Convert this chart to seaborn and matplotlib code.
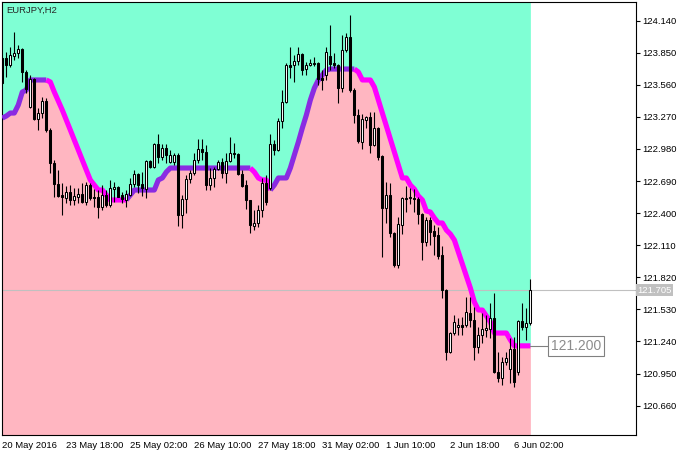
"""EURJPY H2 candles with a stepped trend line and two-colour fill, MetaTrader style."""

import numpy as np
import pandas as pd
import matplotlib
matplotlib.use("Agg")
import matplotlib.pyplot as plt
import seaborn as sns

symbol = "EURJPY,H2"

opens = [
    123.803, 123.803, 123.739, 123.821, 123.848, 123.884, 123.676, 123.360, 123.613, 123.251,
    123.305, 123.414, 123.152, 122.853, 122.663, 122.564, 122.537, 122.591, 122.519, 122.546,
    122.573, 122.501, 122.654, 122.546, 122.546, 122.455, 122.564, 122.473, 122.618, 122.636,
    122.564, 122.519, 122.564, 122.663, 122.754, 122.663, 122.618, 122.871, 122.817, 123.025,
    122.907, 122.989, 122.862, 122.862, 122.926, 122.383, 122.528, 122.709, 122.763, 122.880,
    122.980, 122.953, 122.654, 122.718, 122.799, 122.862, 122.763, 122.871, 122.944, 122.935,
    122.754, 122.654, 122.519, 122.284, 122.311, 122.428, 122.672, 122.627, 123.025, 122.971,
    123.233, 123.405, 123.739, 123.739, 123.775, 123.839, 123.703, 123.739, 123.757, 123.757,
    123.622, 123.649, 123.821, 123.757, 123.739, 123.531, 123.875, 123.992, 123.513, 123.287,
    123.043, 123.242, 123.269, 123.016, 123.170, 122.916, 122.446, 122.564, 122.220, 121.931,
    122.293, 122.537, 122.537, 122.537, 122.528, 122.392, 122.139, 122.338, 122.238, 122.202,
    122.021, 121.705, 121.144, 121.316, 121.370, 121.388, 121.388, 121.497, 121.434, 121.190,
    121.298, 121.343, 121.352, 121.452, 120.963, 120.909, 121.054, 120.991, 121.171, 120.963,
    121.425, 121.370, 121.406,
]
highs = [
    123.812, 123.857, 123.902, 124.038, 123.920, 123.893, 123.694, 123.649, 123.622, 123.350,
    123.450, 123.441, 123.170, 122.880, 122.790, 122.672, 122.645, 122.654, 122.627, 122.627,
    122.672, 122.681, 122.672, 122.618, 122.609, 122.654, 122.609, 122.700, 122.681, 122.645,
    122.591, 122.609, 122.718, 122.790, 122.763, 122.772, 122.880, 122.880, 123.034, 123.115,
    123.025, 123.025, 122.971, 122.944, 122.944, 122.564, 122.745, 122.790, 122.944, 123.070,
    123.070, 123.016, 122.808, 122.817, 122.880, 122.898, 122.944, 123.088, 123.034, 122.944,
    122.790, 122.700, 122.519, 122.428, 122.473, 122.718, 122.745, 123.115, 123.061, 123.260,
    123.513, 123.757, 123.902, 123.830, 123.902, 123.848, 123.766, 123.794, 123.812, 123.766,
    123.694, 123.902, 124.101, 123.848, 123.748, 124.011, 124.029, 124.191, 123.531, 123.341,
    123.296, 123.278, 123.314, 123.314, 123.179, 122.926, 122.681, 122.672, 122.229, 122.365,
    122.546, 122.645, 122.627, 122.618, 122.546, 122.401, 122.365, 122.365, 122.293, 122.275,
    122.103, 121.714, 121.325, 121.479, 121.452, 121.461, 121.642, 121.642, 121.551, 121.370,
    121.497, 121.479, 121.587, 121.678, 121.144, 121.099, 121.144, 121.271, 121.280, 121.434,
    121.587, 121.542, 121.804,
]
lows = [
    123.568, 123.631, 123.721, 123.784, 123.803, 123.586, 123.486, 123.350, 123.242, 123.152,
    123.260, 123.133, 122.763, 122.546, 122.546, 122.383, 122.492, 122.473, 122.473, 122.492,
    122.492, 122.473, 122.519, 122.455, 122.356, 122.428, 122.455, 122.455, 122.501, 122.546,
    122.492, 122.455, 122.555, 122.636, 122.582, 122.555, 122.537, 122.808, 122.808, 122.853,
    122.880, 122.853, 122.853, 122.835, 122.284, 122.265, 122.401, 122.672, 122.745, 122.853,
    122.880, 122.609, 122.609, 122.636, 122.790, 122.718, 122.672, 122.862, 122.898, 122.745,
    122.636, 122.437, 122.220, 122.247, 122.275, 122.365, 122.473, 122.609, 122.926, 122.962,
    123.170, 123.396, 123.622, 123.586, 123.739, 123.649, 123.649, 123.730, 123.730, 123.559,
    123.513, 123.604, 123.694, 123.712, 123.396, 123.495, 123.857, 123.495, 123.215, 123.034,
    122.980, 123.170, 122.944, 123.007, 122.880, 122.003, 122.311, 122.184, 121.913, 121.904,
    122.211, 122.410, 122.482, 122.410, 122.302, 121.976, 122.103, 122.112, 122.021, 121.985,
    121.633, 121.072, 121.135, 121.298, 121.298, 121.298, 121.370, 121.370, 121.072, 121.135,
    121.226, 121.280, 121.271, 120.954, 120.873, 120.846, 121.027, 120.864, 120.828, 120.936,
    121.343, 121.253, 121.388,
]
closes = [
    123.577, 123.739, 123.830, 123.848, 123.884, 123.676, 123.522, 123.613, 123.251, 123.305,
    123.414, 123.152, 122.853, 122.663, 122.555, 122.546, 122.591, 122.519, 122.555, 122.573,
    122.501, 122.654, 122.537, 122.537, 122.455, 122.564, 122.473, 122.627, 122.636, 122.546,
    122.528, 122.573, 122.663, 122.754, 122.654, 122.627, 122.871, 122.817, 123.025, 122.907,
    122.989, 122.926, 122.926, 122.926, 122.383, 122.528, 122.709, 122.763, 122.880, 122.980,
    122.953, 122.654, 122.718, 122.799, 122.862, 122.763, 122.871, 122.944, 122.935, 122.754,
    122.645, 122.519, 122.293, 122.311, 122.428, 122.672, 122.501, 123.025, 122.971, 123.233,
    123.405, 123.739, 123.721, 123.775, 123.839, 123.694, 123.739, 123.757, 123.748, 123.613,
    123.604, 123.857, 123.748, 123.739, 123.531, 123.875, 123.992, 123.513, 123.287, 123.052,
    123.251, 123.269, 123.016, 123.170, 122.907, 122.446, 122.564, 122.220, 121.931, 122.302,
    122.537, 122.528, 122.546, 122.528, 122.392, 122.139, 122.338, 122.229, 122.193, 122.012,
    121.705, 121.144, 121.316, 121.415, 121.388, 121.370, 121.506, 121.434, 121.190, 121.298,
    121.352, 121.361, 121.452, 120.963, 120.909, 121.054, 121.090, 121.171, 120.873, 121.425,
    121.370, 121.406, 121.705,
]
# stepped trend line, one value per bar
trend = [
    123.260, 123.278, 123.305, 123.305, 123.378, 123.495, 123.513, 123.604, 123.604, 123.604,
    123.604, 123.604, 123.586, 123.495, 123.414, 123.332, 123.242, 123.152, 123.061, 122.971,
    122.880, 122.790, 122.700, 122.654, 122.609, 122.609, 122.564, 122.519, 122.519, 122.519,
    122.519, 122.519, 122.564, 122.609, 122.609, 122.609, 122.609, 122.609, 122.609, 122.700,
    122.718, 122.772, 122.808, 122.808, 122.808, 122.808, 122.808, 122.808, 122.808, 122.808,
    122.808, 122.808, 122.808, 122.808, 122.808, 122.808, 122.808, 122.808, 122.808, 122.808,
    122.808, 122.808, 122.808, 122.772, 122.718, 122.700, 122.700, 122.609, 122.654, 122.718,
    122.718, 122.718, 122.808, 122.926, 123.043, 123.170, 123.287, 123.423, 123.531, 123.604,
    123.649, 123.694, 123.703, 123.703, 123.703, 123.703, 123.703, 123.703, 123.703, 123.676,
    123.604, 123.604, 123.604, 123.540, 123.423, 123.305, 123.188, 123.070, 122.953, 122.835,
    122.718, 122.718, 122.654, 122.618, 122.555, 122.519, 122.419, 122.410, 122.356, 122.311,
    122.311, 122.247, 122.211, 122.157, 122.048, 121.940, 121.831, 121.723, 121.596, 121.524,
    121.524, 121.470, 121.415, 121.316, 121.316, 121.316, 121.316, 121.253, 121.200, 121.200,
    121.200, 121.200, 121.200,
]
# u = rising (blue violet), d = falling (magenta)
trend_dir = "u" * 12 + "d" * 20 + "u" * 31 + "d" * 5 + "u" * 21 + "d" * 44

x_tick_bars = [0, 16, 32, 48, 64, 80, 96, 112, 128]
x_tick_labels = ["20 May 2016", "23 May 18:00", "25 May 02:00", "26 May 10:00",
                 "27 May 18:00", "31 May 02:00", "1 Jun 10:00", "2 Jun 18:00", "6 Jun 02:00"]
y_ticks = [120.660, 120.950, 121.240, 121.530, 121.820, 122.110,
           122.400, 122.690, 122.980, 123.270, 123.560, 123.850, 124.140]
bid_price = 121.705
target_price = 121.200

line_colors = {"u": "#8A2BE2", "d": "#FF00FF"}

sns.set_style("white")
plt.rcParams["font.family"] = ["Liberation Sans", "DejaVu Sans"]

df = pd.DataFrame({"open": opens, "high": highs, "low": lows,
                   "close": closes, "trend": trend, "dir": list(trend_dir)})
df["bar"] = np.arange(len(df))

fig = plt.figure(figsize=(6.87, 4.55), dpi=100)
ax = fig.add_axes([2 / 687, 20 / 455, 634 / 687, 433 / 455])
y_lo, y_hi = 120.394, 124.309
ax.set_xlim(-0.075, 158.4)
ax.set_ylim(y_lo, y_hi)

# coloured zones above / below the trend line
ax.fill_between(df["bar"], df["trend"], y_hi, color="#7FFFD4", lw=0, zorder=1)
ax.fill_between(df["bar"], y_lo, df["trend"], color="#FFB6C1", lw=0, zorder=1)

ax.axhline(bid_price, color="#C0C0C0", lw=0.8, zorder=2)

# trend line, one run per colour
runs = (df["dir"] != df["dir"].shift()).cumsum()
for _, seg in df.groupby(runs):
    start = max(seg.index[0] - 1, 0)
    part = df.loc[start:seg.index[-1]]
    sns.lineplot(x=part["bar"].values, y=part["trend"].values, estimator=None, sort=False,
                 color=line_colors[seg["dir"].iloc[0]], lw=3.7, ax=ax, zorder=3,
                 solid_capstyle="butt")

# candles
up = df["close"] >= df["open"]
ax.vlines(df["bar"], df["low"], df["high"], color="black", lw=0.8, zorder=4)
body_lo = np.minimum(df["open"], df["close"])
body_h = (df["close"] - df["open"]).abs()
ax.bar(df["bar"], body_h, bottom=body_lo, width=0.55,
       color=np.where(up, "white", "black"), edgecolor="black", lw=0.75, zorder=5)

# target price marker
last = df["bar"].iloc[-1]
ax.plot([last, last + 5.2], [target_price, target_price], color="#808080", lw=0.8, zorder=6)
ax.text(last + 5.2, target_price, f"{target_price:.3f}", fontsize=10, color="#8C8C8C",
        ha="left", va="center", zorder=7,
        bbox=dict(boxstyle="square,pad=0.2", fc="white", ec="#808080", lw=0.8))

# axes styling
ax.yaxis.tick_right()
ax.set_yticks(y_ticks)
ax.set_yticklabels([f"{v:.3f}" for v in y_ticks])
ax.set_xticks(x_tick_bars)
ax.set_xticklabels(x_tick_labels, ha="left")
ax.tick_params(axis="both", direction="out", length=3, width=0.8, color="black",
               labelsize=6.8, pad=1.5, labelcolor="black")
ax.tick_params(axis="x", pad=1)
for s in ax.spines.values():
    s.set_visible(True)
    s.set_color("black")
    s.set_linewidth(0.8)

ax.text(1.0016, bid_price, f"{bid_price:.3f}", transform=ax.get_yaxis_transform(),
        fontsize=6.8, color="white", ha="left", va="center", clip_on=False, zorder=8,
        bbox=dict(boxstyle="square,pad=0.15", fc="#C0C0C0", ec="none"))

ax.text(0.0065, 0.991, symbol, transform=ax.transAxes, fontsize=6.8,
        ha="left", va="top", zorder=8)

fig.savefig("out.png", dpi=100)
plt.close(fig)
